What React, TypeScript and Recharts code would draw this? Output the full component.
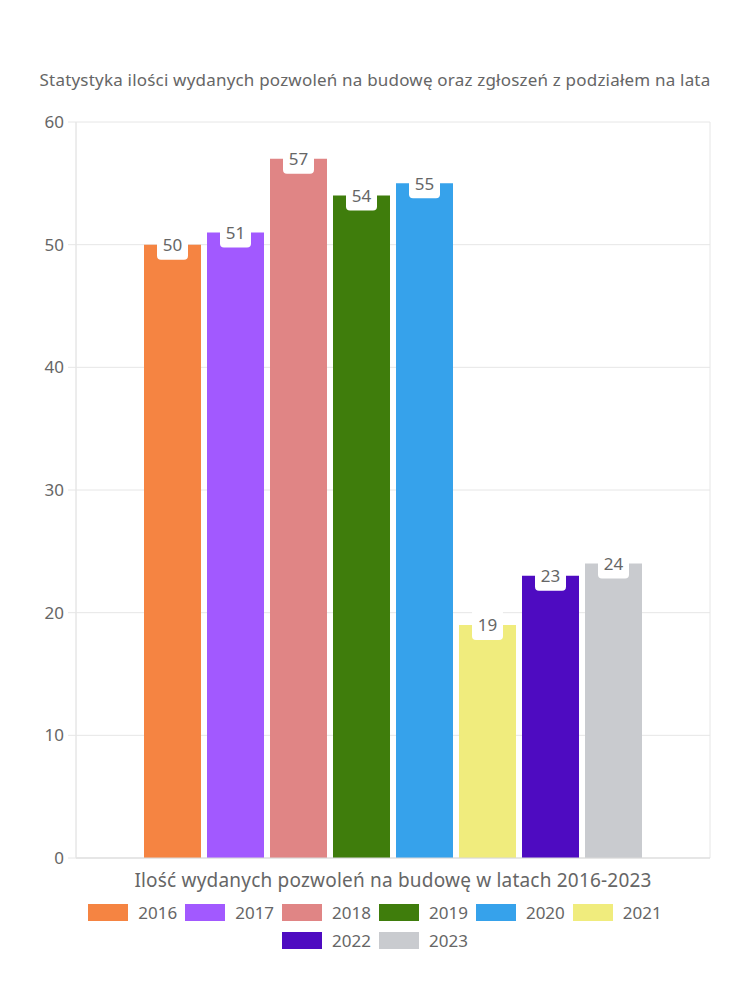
import React from 'react';
import {
	BarChart,
	Bar,
	XAxis,
	YAxis,
	CartesianGrid,
	Legend,
	LabelList,
} from 'recharts';

const title = 'Statystyka ilości wydanych pozwoleń na budowę oraz zgłoszeń z podziałem na lata';
const xTitle = 'Ilość wydanych pozwoleń na budowę w latach 2016-2023';
const years = ['2016', '2017', '2018', '2019', '2020', '2021', '2022', '2023'];
const permits = [50, 51, 57, 54, 55, 19, 23, 24];
const yTicks = [0, 10, 20, 30, 40, 50, 60];
const colors = ['#F58442', '#A259FF', '#E08585', '#3F7D0C', '#36A2EB', '#F0EC7D', '#4E0BC1', '#C9CBCF'];

const FONT = "'Noto Sans', sans-serif";
const TXT = '#666';
const GRID = '#e6e6e6';

const row: any = { name: 'lata' };
years.forEach((y, i) => {
	row[y] = permits[i];
});
const chartData = [row];

const ValueLabel = (props: any) => {
	const { x, y, width, value } = props;
	const cx = x + width / 2;
	const w = 31;
	return (
		<g>
			<rect x={cx - w / 2} y={y - 16} width={w} height={31} rx={4} fill='#fff' />
			<text
				x={cx}
				y={y}
				textAnchor='middle'
				dominantBaseline='central'
				fill={TXT}
				fontSize={17}
				fontFamily={FONT}
			>
				{value}
			</text>
		</g>
	);
};

const LegendBox = () => (
	<div style={{ height: 100, fontFamily: FONT, color: TXT, fontSize: 17 }}>
		<div
			style={{
				width: 634,
				marginLeft: 68,
				textAlign: 'center',
				lineHeight: '22px',
				height: 22,
				fontSize: 19,
				letterSpacing: 0.2,
			}}
		>
			{xTitle}
		</div>
		<div
			style={{
				width: 600,
				margin: '11px auto 0',
				display: 'flex',
				flexWrap: 'wrap',
				justifyContent: 'center',
				rowGap: 8,
			}}
		>
			{years.map((y, i) => (
				<div key={y} style={{ display: 'flex', alignItems: 'center', margin: '0 4px', height: 20 }}>
					<span style={{ width: 40, height: 17, background: colors[i], marginRight: 10 }} />
					<span>{y}</span>
				</div>
			))}
		</div>
	</div>
);

export default function App() {
	return (
		<div style={{ position: 'relative', width: 734, height: 984 }}>
			<div
				style={{
					position: 'absolute',
					top: 62,
					left: 0,
					width: 734,
					textAlign: 'center',
					fontFamily: FONT,
					fontSize: 17,
					lineHeight: '20px',
					letterSpacing: 0.2,
					color: TXT,
				}}
			>
				{title}
			</div>
			<BarChart
				width={734}
				height={984}
				data={chartData}
				margin={{ top: 114, right: 32, left: 0, bottom: 26 }}
				barSize={57}
				barGap={6}
			>
				<CartesianGrid
					stroke={GRID}
					verticalCoordinatesGenerator={({ offset }: any) => [offset.left, offset.left + offset.width]}
				/>
				<XAxis dataKey='name' tick={false} tickLine={false} axisLine={{ stroke: '#d9d9d9' }} height={8} />
				<YAxis
					domain={[0, 60]}
					ticks={yTicks}
					width={68}
					tickSize={8}
					tickMargin={4}
					axisLine={{ stroke: GRID }}
					tickLine={{ stroke: GRID }}
					tick={{ fill: TXT, fontSize: 17, fontFamily: FONT }}
				/>
				<Legend
					verticalAlign='bottom'
					content={<LegendBox />}
					wrapperStyle={{ top: 861, left: 0, width: 734 }}
				/>
				{years.map((y, i) => (
					<Bar key={y} dataKey={y} name={y} fill={colors[i]} isAnimationActive={false}>
						<LabelList dataKey={y} content={<ValueLabel />} />
					</Bar>
				))}
			</BarChart>
		</div>
	);
}
